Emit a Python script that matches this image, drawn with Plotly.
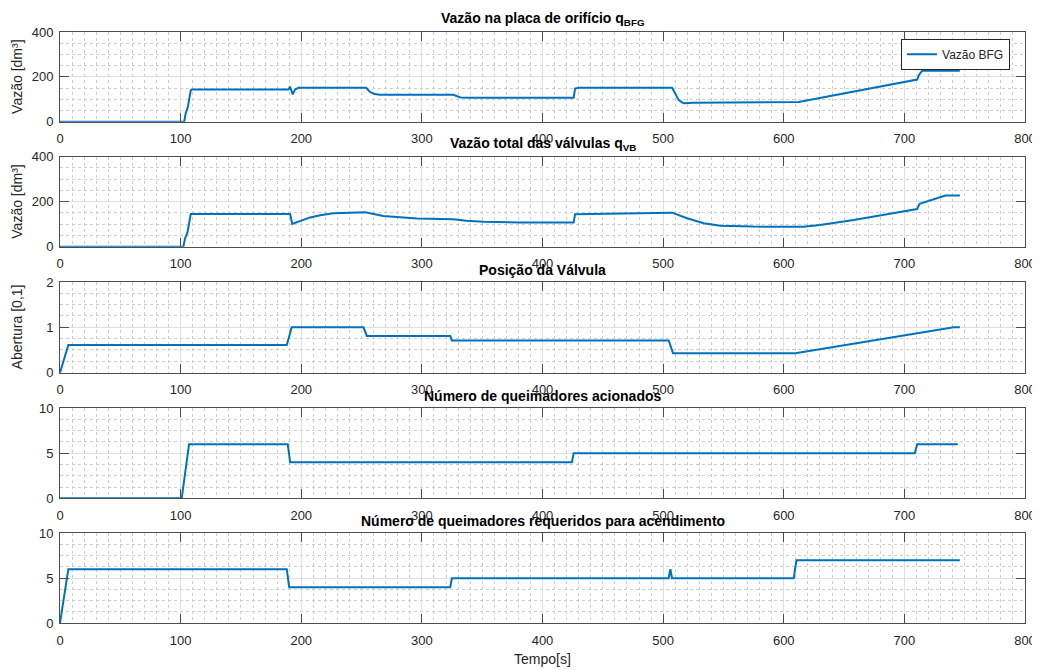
import plotly.graph_objects as go

# ---- Data ----
t_bfg = [0, 103, 104.2, 105.9, 108.4, 109.2, 189.4, 190.7, 192.9, 195, 197.6, 253.8, 257, 261, 265,
         326, 332, 340, 425.8, 427, 430, 507.4, 510, 512.9, 517, 525, 612.4, 710.6, 712, 714.7, 746]
v_bfg = [0, 0, 37, 64, 140, 144, 144, 156, 122, 144, 151, 151, 133, 123, 120,
         120, 108, 107, 107, 148, 151, 151, 126, 96, 82, 84, 88, 188, 207, 227, 227]

t_vb = [0, 102.3, 103.7, 105.6, 108.4, 190.8, 192.5, 199, 207.4, 215.7, 226.7, 240.5, 253, 268, 282, 296,
        326, 337, 351, 365, 381.6, 425.8, 427, 507.4, 519.8, 533.6, 547.5, 575, 602.7, 616.5, 630,
        658, 685.6, 710.6, 712.6, 734, 746]
v_vb = [0, 0, 37, 62, 145, 145, 101, 115, 130, 140, 148, 151, 153, 136, 129, 125,
        122, 115, 111, 108, 107, 107, 144, 151, 126, 104, 93, 89, 87, 88, 96,
        118, 144, 167, 190, 227, 227]

t_pos = [0, 6.9, 188, 192.1, 251.6, 254.4, 323.5, 324.9, 504.6, 508.2, 609.7, 741, 746]
v_pos = [0, 0.61, 0.61, 1.0, 1.0, 0.81, 0.81, 0.71, 0.71, 0.43, 0.43, 1.0, 1.0]

t_qa = [0, 100.9, 107, 188.8, 190.8, 424.4, 425.8, 708.6, 710.6, 744.3]
v_qa = [0, 0, 6, 6, 4, 4, 5, 5, 6, 6]

t_qr = [0, 6.9, 188, 190, 323.5, 324.9, 504.6, 506, 507.4, 608.3, 610.5, 746]
v_qr = [0, 6, 6, 4, 4, 5, 5, 6, 5, 5, 7, 7]

titles = ["Vazão na placa de orifício q<sub>BFG</sub>",
          "Vazão total das válvulas q<sub>VB</sub>",
          "Posição da Válvula",
          "Número de queimadores acionados",
          "Número de queimadores requeridos para acendimento"]
ylabels = ["Vazão [dm³]", "Vazão [dm³]", "Abertura [0,1]", None, None]
xlabel = "Tempo[s]"
legend_name = "Vazão BFG"

x_range = [0, 800]
y_ranges = [[0, 400], [0, 400], [0, 2], [0, 10], [0, 10]]
y_dticks = [200, 200, 1, 5, 5]
y_minor = [50, 50, 0.25, 1.25, 1.25]

# ---- Layout geometry (page body has an 8px margin, so the figure is 8px smaller) ----
domains = [[0.8483, 1.0], [0.6368, 0.7891], [0.4236, 0.5770], [0.2109, 0.3638], [0.0, 0.1517]]

FONT = "Liberation Sans, Arial, Helvetica, sans-serif"
TXT = "#262626"
AX = "#4d4d4d"
LINE = "#0072BD"

fig = go.Figure()
series = [(t_bfg, v_bfg), (t_vb, v_vb), (t_pos, v_pos), (t_qa, v_qa), (t_qr, v_qr)]
for i, (tx, vy) in enumerate(series):
    suf = "" if i == 0 else str(i + 1)
    fig.add_trace(go.Scatter(x=tx, y=vy, mode="lines",
                             line=dict(color=LINE, width=2),
                             name=legend_name, showlegend=(i == 0),
                             xaxis="x" + suf, yaxis="y" + suf))

layout = dict(
    template="none",
    width=1032, height=662,
    margin=dict(l=52, r=15, t=24, b=47, autoexpand=False),
    paper_bgcolor="white", plot_bgcolor="white",
    font=dict(family=FONT, size=13, color=TXT),
    showlegend=True,
    legend=dict(x=0.9845, y=0.9885, xanchor="right", yanchor="top",
                bgcolor="white", bordercolor="#262626", borderwidth=1,
                font=dict(size=12, color=TXT), itemwidth=30,
                tracegroupgap=0),
)

annotations = []
for i in range(5):
    suf = "" if i == 0 else str(i + 1)
    layout["xaxis" + suf] = dict(
        domain=[0, 1], anchor="y" + suf, range=x_range, dtick=100, tick0=0,
        automargin=False, ticklabelstandoff=5,
        showline=True, linecolor=AX, linewidth=1, mirror="ticks",
        ticks="inside", ticklen=9, tickcolor=AX, tickwidth=1,
        showgrid=True, gridcolor="#dfdfdf", gridwidth=1,
        zeroline=False, tickfont=dict(size=13, color=TXT),
        minor=dict(dtick=10, tick0=0, showgrid=True, gridcolor="#cdcdcd",
                   griddash="dot", gridwidth=1, ticks=""),
        fixedrange=True,
    )
    layout["yaxis" + suf] = dict(
        domain=domains[i], anchor="x" + suf, range=y_ranges[i], dtick=y_dticks[i], tick0=0,
        automargin=False, ticklabelstandoff=3,
        showline=True, linecolor=AX, linewidth=1, mirror="ticks",
        ticks="inside", ticklen=9, tickcolor=AX, tickwidth=1,
        showgrid=True, gridcolor="#dfdfdf", gridwidth=1,
        zeroline=False, tickfont=dict(size=13, color=TXT),
        minor=dict(dtick=y_minor[i], tick0=0, showgrid=True, gridcolor="#cdcdcd",
                   griddash="dot", gridwidth=1, ticks=""),
        fixedrange=True,
    )
    annotations.append(dict(
        text="<b>" + titles[i] + "</b>", x=0.5, xref="paper", y=domains[i][1], yref="paper",
        xanchor="center", yanchor="bottom", yshift=2, showarrow=False,
        font=dict(size=14, color="black", family=FONT)))
    if ylabels[i]:
        annotations.append(dict(
            text=ylabels[i], x=-0.0445, xref="paper",
            y=(domains[i][0] + domains[i][1]) / 2, yref="paper",
            xanchor="center", yanchor="middle", textangle=-90, showarrow=False,
            font=dict(size=14, color=TXT, family=FONT)))

annotations.append(dict(text=xlabel, x=0.5, xref="paper", y=0, yref="paper",
                        xanchor="center", yanchor="top", yshift=-26, showarrow=False,
                        font=dict(size=14, color=TXT, family=FONT)))
layout["annotations"] = annotations

fig.update_layout(**layout)
fig.write_html("out.html")
